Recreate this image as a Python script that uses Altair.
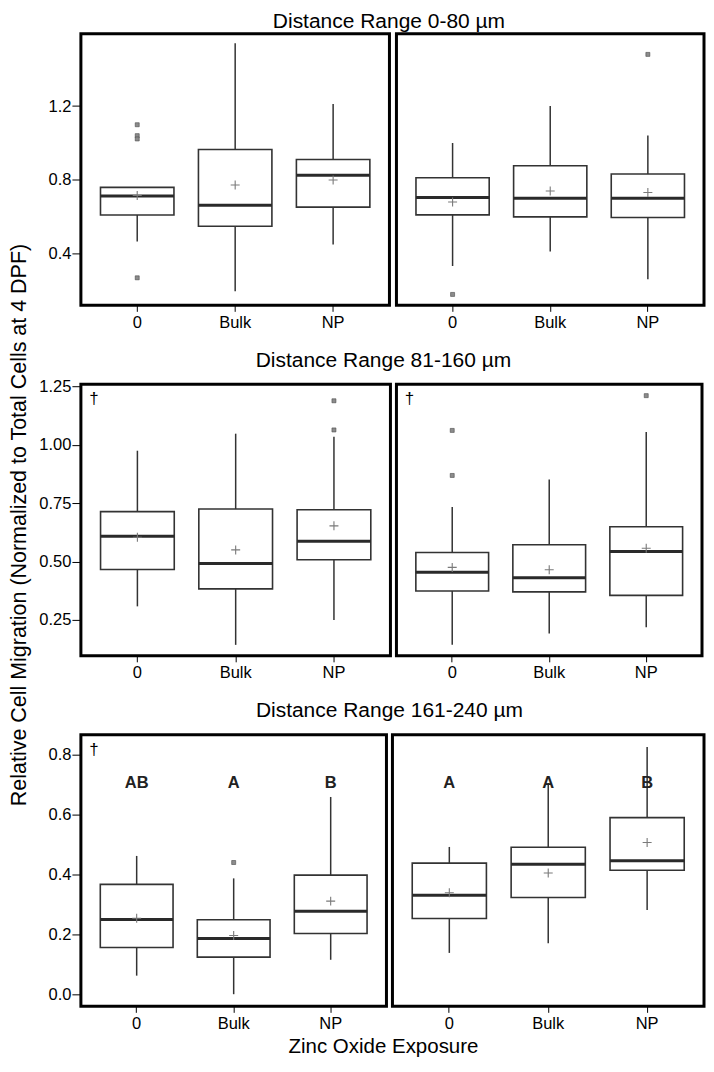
import altair as alt
import pandas as pd

FONT = "Liberation Sans"

exposure = ["0", "Bulk", "NP"]
row_titles = ["Distance Range 0-80 µm", "Distance Range 81-160 µm", "Distance Range 161-240 µm"]
y_title = "Relative Cell Migration (Normalized to Total Cells at 4 DPF)"
x_title = "Zinc Oxide Exposure"

# y-axis ranges and ticks per row
r1_domain = [0.121, 1.592]
r1_ticks = [0.4, 0.8, 1.2]
r2_domain = [0.096, 1.26]
r2_ticks = [0.25, 0.50, 0.75, 1.00, 1.25]
r3_domain = [-0.0405, 0.867]
r3_ticks = [0.0, 0.2, 0.4, 0.6, 0.8]

# ---- Row 1 (0-80 µm), left panel
r1l_low = [0.466, 0.197, 0.450]
r1l_q1 = [0.610, 0.549, 0.653]
r1l_med = [0.713, 0.663, 0.826]
r1l_q3 = [0.760, 0.965, 0.911]
r1l_high = [0.760, 1.540, 1.212]
r1l_mean = [0.716, 0.773, 0.800]
r1l_out_grp = ["0", "0", "0", "0"]
r1l_out_val = [1.099, 1.040, 1.022, 0.270]

# ---- Row 1, right panel
r1r_low = [0.334, 0.412, 0.262]
r1r_q1 = [0.611, 0.600, 0.597]
r1r_med = [0.705, 0.701, 0.701]
r1r_q3 = [0.812, 0.877, 0.832]
r1r_high = [1.000, 1.200, 1.041]
r1r_mean = [0.681, 0.740, 0.732]
r1r_out_grp = ["0", "NP"]
r1r_out_val = [0.180, 1.480]

# ---- Row 2 (81-160 µm), left panel
r2l_low = [0.308, 0.143, 0.249]
r2l_q1 = [0.466, 0.383, 0.508]
r2l_med = [0.608, 0.492, 0.587]
r2l_q3 = [0.714, 0.725, 0.722]
r2l_high = [0.975, 1.048, 1.035]
r2l_mean = [0.604, 0.550, 0.653]
r2l_out_grp = ["NP", "NP"]
r2l_out_val = [1.189, 1.064]

# ---- Row 2, right panel
r2r_low = [0.143, 0.192, 0.218]
r2r_q1 = [0.374, 0.370, 0.355]
r2r_med = [0.454, 0.431, 0.543]
r2r_q3 = [0.539, 0.572, 0.649]
r2r_high = [0.734, 0.852, 1.055]
r2r_mean = [0.475, 0.465, 0.557]
r2r_out_grp = ["0", "0", "NP"]
r2r_out_val = [1.062, 0.869, 1.211]

# ---- Row 3 (161-240 µm), left panel
r3l_low = [0.062, 0.000, 0.115]
r3l_q1 = [0.156, 0.124, 0.203]
r3l_med = [0.250, 0.186, 0.277]
r3l_q3 = [0.367, 0.249, 0.398]
r3l_high = [0.462, 0.387, 0.659]
r3l_mean = [0.254, 0.196, 0.311]
r3l_out_grp = ["Bulk"]
r3l_out_val = [0.440]
r3l_letters = ["AB", "A", "B"]

# ---- Row 3, right panel
r3r_low = [0.138, 0.170, 0.281]
r3r_q1 = [0.253, 0.323, 0.414]
r3r_med = [0.331, 0.434, 0.446]
r3r_q3 = [0.438, 0.491, 0.590]
r3r_high = [0.492, 0.706, 0.826]
r3r_mean = [0.339, 0.405, 0.507]
r3r_out_grp = []
r3r_out_val = []
r3r_letters = ["A", "A", "B"]

letter_level = 0.706
dagger = "†"

BOX_COLOR = "#333333"
PI, PO = 0.25, 0.2
Y_EXTENT = 44
LABEL_SIZE = 16.5
ROW_H = 272
TITLE_SIZE = 21


def panel(low, q1, med, q3, high, mean, out_grp, out_val, width, height,
          domain, ticks, fmt, show_y, letters=None, with_dagger=False,
          title=None, title_offset=0, title_dx=0, with_xtitle=False):
    df = pd.DataFrame({"exposure": exposure, "low": low, "q1": q1, "med": med,
                       "q3": q3, "high": high, "mean": mean})
    bw = width / (3 - PI + 2 * PO) * (1 - PI)
    xs = alt.Scale(domain=exposure, paddingInner=PI, paddingOuter=PO)
    if with_xtitle:
        xaxis = alt.Axis(labelAngle=0, tickSize=6, labelPadding=3, labelFontSize=LABEL_SIZE,
                         title=x_title, titleX=302.5, titleY=30, titleAlign="center",
                         titleBaseline="top", titleAngle=0, titleFontSize=20.5)
    else:
        xaxis = alt.Axis(labelAngle=0, tickSize=6, labelPadding=3, labelFontSize=LABEL_SIZE,
                         title=None)
    ys = alt.Scale(domain=domain, nice=False, zero=False)
    if show_y:
        yaxis = alt.Axis(values=ticks, format=fmt, tickSize=9, labelPadding=1, title=None,
                         labelFontSize=LABEL_SIZE, minExtent=Y_EXTENT, maxExtent=Y_EXTENT)
    else:
        yaxis = None

    def X():
        return alt.X("exposure:N", scale=xs, axis=xaxis, sort=exposure)

    def Y(f):
        return alt.Y(f"{f}:Q", scale=ys, axis=yaxis)

    base = alt.Chart(df)
    layers = [
        base.mark_rule(color=BOX_COLOR, strokeWidth=1.5).encode(x=X(), y=Y("low"), y2="high"),
        base.mark_bar(fill="white", stroke=BOX_COLOR, strokeWidth=1.6).encode(x=X(), y=Y("q1"), y2="q3"),
        base.mark_tick(color="#2a2a2a", thickness=3, size=bw, opacity=1).encode(x=X(), y=Y("med")),
        base.mark_point(shape="M-1,0L1,0M0,-1L0,1", filled=False, size=81, strokeWidth=1.1,
                        color="#7a7a7a", opacity=1).encode(x=X(), y=Y("mean")),
    ]
    if out_val:
        odf = pd.DataFrame({"exposure": out_grp, "value": out_val})
        layers.append(alt.Chart(odf).mark_square(size=16, color="#8c8c8c", stroke="#4a4a4a",
                                                 strokeWidth=0.6, opacity=1)
                      .encode(x=X(), y=Y("value")))
    if letters:
        ldf = pd.DataFrame({"exposure": exposure, "letter": letters,
                            "level": [letter_level] * len(letters)})
        layers.append(alt.Chart(ldf).mark_text(font=FONT, fontSize=16.5, fontWeight="bold",
                                               color="#222222", baseline="middle")
                      .encode(x=X(), y=Y("level"), text="letter:N"))
    if with_dagger:
        ddf = pd.DataFrame({"t": [dagger]})
        layers.append(alt.Chart(ddf).mark_text(font=FONT, fontSize=17, color="black",
                                               baseline="middle", align="center")
                      .encode(x=alt.value(13), y=alt.value(15), text="t:N"))
    props = dict(width=width, height=height)
    if title:
        props["title"] = alt.TitleParams(text=title, anchor="middle", frame="group",
                                         offset=title_offset, dx=title_dx, fontSize=TITLE_SIZE,
                                         font=FONT, fontWeight="normal", color="black")
    return alt.layer(*layers).properties(**props)


row1 = alt.hconcat(
    panel(r1l_low, r1l_q1, r1l_med, r1l_q3, r1l_high, r1l_mean, r1l_out_grp, r1l_out_val,
          309, ROW_H, r1_domain, r1_ticks, ".1f", True,
          title=row_titles[0], title_offset=2, title_dx=154),
    panel(r1r_low, r1r_q1, r1r_med, r1r_q3, r1r_high, r1r_mean, r1r_out_grp, r1r_out_val,
          308, ROW_H, r1_domain, r1_ticks, ".1f", False),
    spacing=7, bounds="flush")

row2 = alt.hconcat(
    panel(r2l_low, r2l_q1, r2l_med, r2l_q3, r2l_high, r2l_mean, r2l_out_grp, r2l_out_val,
          310, ROW_H, r2_domain, r2_ticks, ".2f", True, with_dagger=True,
          title=row_titles[1], title_offset=8, title_dx=148),
    panel(r2r_low, r2r_q1, r2r_med, r2r_q3, r2r_high, r2r_mean, r2r_out_grp, r2r_out_val,
          306, ROW_H, r2_domain, r2_ticks, ".2f", False, with_dagger=True),
    spacing=6, bounds="flush")

row3 = alt.hconcat(
    panel(r3l_low, r3l_q1, r3l_med, r3l_q3, r3l_high, r3l_mean, r3l_out_grp, r3l_out_val,
          306, ROW_H, r3_domain, r3_ticks, ".1f", True, letters=r3l_letters, with_dagger=True,
          title=row_titles[2], title_offset=14, title_dx=156, with_xtitle=True),
    panel(r3r_low, r3r_q1, r3r_med, r3r_q3, r3r_high, r3r_mean, r3r_out_grp, r3r_out_val,
          312, ROW_H, r3_domain, r3_ticks, ".1f", False, letters=r3r_letters),
    spacing=6, bounds="flush")

rows = alt.vconcat(row1, row2, row3, spacing=15)

ytitle_chart = (
    alt.Chart(pd.DataFrame({"t": [y_title]}))
    .mark_text(font=FONT, fontSize=21.5, color="black", angle=270,
               align="center", baseline="middle")
    .encode(x=alt.value(11), y=alt.value(492), text="t:N")
    .properties(width=22, height=1000, view=alt.ViewBackground(stroke="transparent", strokeWidth=0))
)

chart = (
    alt.hconcat(ytitle_chart, rows, spacing=4)
    .properties(padding={"left": 0, "top": 0, "right": 0, "bottom": 0})
    .configure_view(stroke="black", strokeWidth=3)
    .configure_axis(labelFont=FONT, labelFontSize=LABEL_SIZE, labelColor="black",
                    tickColor="black", tickWidth=1, domain=False, grid=False,
                    titleFont=FONT, titleFontSize=21, titleFontWeight="normal",
                    titleColor="black")
    .configure_title(font=FONT, fontSize=TITLE_SIZE, fontWeight="normal", color="black")
)

chart.save("out.html", embed_options={"renderer": "svg", "actions": False})
